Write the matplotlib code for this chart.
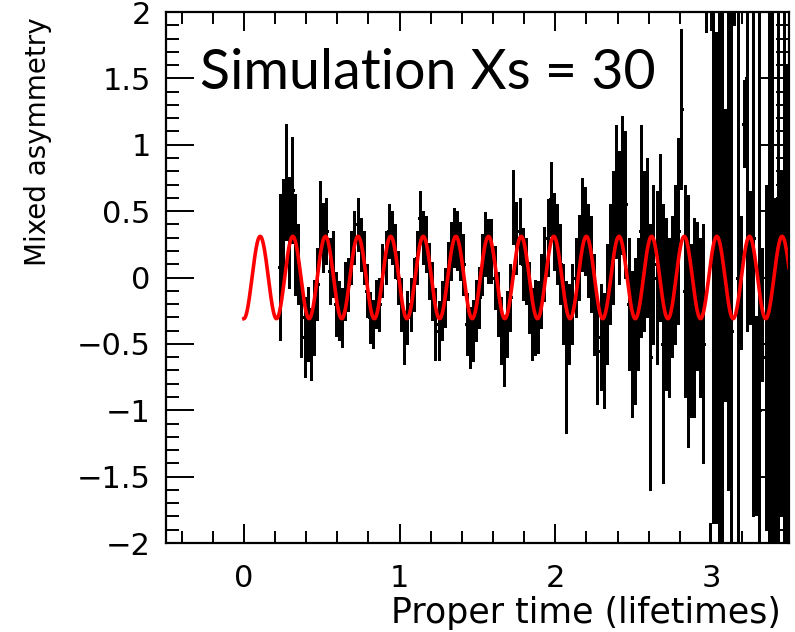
import matplotlib
matplotlib.use("Agg")
import matplotlib.pyplot as plt
import numpy as np
from matplotlib.ticker import MultipleLocator

# Histogram of the mixed asymmetry: bins of 0.02 lifetimes starting at 0.22
bin_low = 0.22
bin_width = 0.02
asymmetry = [
    0.08, 0.34, 0.72, 0.34, 0.66, 0.25, 0.10, -0.30, -0.45, -0.35,
    -0.50, -0.30, -0.05, 0.45, 0.30, 0.35, 0.05, 0.10, -0.20, -0.25,
    -0.30, -0.10, -0.05, 0.15, 0.30, 0.40, 0.25, 0.15, -0.10, -0.30,
    -0.35, -0.20, -0.20, 0.05, 0.15, 0.35, 0.30, 0.20, 0.00, -0.20,
    -0.45, -0.30, -0.20, -0.05, 0.15, 0.45, 0.30, 0.25, 0.05, -0.10,
    -0.35, -0.40, -0.25, -0.15, 0.05, 0.20, 0.30, 0.28, 0.20, 0.10,
    -0.35, -0.45, -0.40, -0.25, -0.15, 0.10, 0.25, 0.20, 0.20, 0.00,
    -0.20, -0.40, -0.55, -0.35, -0.15, 0.53, 0.30, 0.35, 0.10, 0.05,
    -0.15, -0.35, -0.30, -0.30, -0.10, 0.10, 0.30, 0.59, 0.35, 0.25,
    0.10, -0.20, -0.60, -0.35, -0.20, 0.00, 0.15, 0.40, 0.35, 0.20,
    0.10, -0.20, -0.55, -0.45, -0.55, -0.20, 0.10, 0.30, 0.65, 0.45,
    0.70, 0.55, -0.20, -0.50, -0.40, -0.20, 0.35, 0.20, 0.30, -0.60,
    0.10, 0.00, 0.30, -0.50, -0.20, -0.30, -0.07, 0.10, 0.35, 1.27,
    -0.10, -0.33, -0.40, -0.30, -0.14, -0.30, -0.50, 2.50, -2.60, 0.10,
    0.00, 0.20, -0.30, 0.17, 0.50, -0.40, 2.50, 0.00, -0.04, 1.16,
    1.50, 0.15, 0.30, -1.04, -1.00, -0.28, -0.60, 0.20, -0.50, -0.80,
    0.30, -0.50, 0.50, -0.40,
]
errors = [
    0.55, 0.40, 0.44, 0.42, 0.40, 0.38, 0.30, 0.30, 0.30, 0.28,
    0.27, 0.28, 0.27, 0.28, 0.26, 0.25, 0.25, 0.25, 0.24, 0.22,
    0.22, 0.22, 0.20, 0.20, 0.20, 0.20, 0.20, 0.20, 0.20, 0.19,
    0.18, 0.18, 0.20, 0.20, 0.20, 0.20, 0.20, 0.20, 0.20, 0.20,
    0.20, 0.20, 0.20, 0.20, 0.20, 0.20, 0.20, 0.21, 0.21, 0.22,
    0.27, 0.22, 0.22, 0.22, 0.22, 0.22, 0.22, 0.22, 0.22, 0.23,
    0.23, 0.23, 0.23, 0.23, 0.23, 0.23, 0.24, 0.24, 0.24, 0.24,
    0.24, 0.25, 0.27, 0.25, 0.25, 0.28, 0.27, 0.25, 0.27, 0.25,
    0.27, 0.27, 0.28, 0.27, 0.28, 0.28, 0.29, 0.28, 0.29, 0.30,
    0.30, 0.30, 0.57, 0.30, 0.30, 0.30, 0.32, 0.35, 0.33, 0.35,
    0.36, 0.38, 0.40, 0.40, 0.43, 0.45, 0.45, 0.50, 0.50, 0.50,
    0.52, 0.55, 0.50, 0.55, 0.55, 0.50, 0.80, 0.60, 0.60, 1.00,
    0.60, 0.65, 0.63, 1.05, 0.65, 0.60, 0.53, 0.60, 0.70, 0.60,
    0.80, 0.95, 0.65, 0.75, 0.56, 0.60, 0.90, 0.65, 0.75, 1.95,
    1.85, 2.60, 2.50, 1.10, 2.10, 2.80, 0.60, 2.80, 0.50, 0.33,
    1.90, 0.50, 2.10, 0.75, 3.20, 0.50, 1.30, 2.80, 2.60, 1.40,
    2.70, 1.30, 2.60, 2.00,
]

# fitted oscillation
amplitude = 0.31
xs = 30
t_max = 3.5

asym = np.array(asymmetry)
err = np.array(errors)
centers = bin_low + bin_width * (np.arange(len(asym)) + 0.5)

fig = plt.figure(figsize=(7.95, 6.32), dpi=100)
ax = fig.add_axes([0.2088, 0.1408, 0.7836, 0.8402])

eb = ax.errorbar(centers, asym, yerr=err, xerr=bin_width / 2, fmt='none',
                 ecolor='black', elinewidth=1.9, capsize=0)
for lc in eb.lines[2]:
    lc.set_antialiased(False)

t = np.linspace(0, t_max, 1500)
ax.plot(t, -amplitude * np.cos(xs * t), color='red', linewidth=2.6)

ax.set_xlim(-0.5, 3.5)
ax.set_ylim(-2, 2)

ax.xaxis.set_major_locator(MultipleLocator(1))
ax.xaxis.set_minor_locator(MultipleLocator(0.2))
ax.yaxis.set_major_locator(MultipleLocator(0.5))
ax.yaxis.set_minor_locator(MultipleLocator(0.1))
ax.yaxis.set_major_formatter(plt.FuncFormatter(lambda v, p: f'{v:g}'.replace('-', '\u2212')))

ax.tick_params(axis='both', which='both', direction='in', top=True, right=True,
               width=1.4, colors='black')
ax.tick_params(axis='x', which='major', length=13.5, pad=15)
ax.tick_params(axis='x', which='minor', length=8.5)
ax.tick_params(axis='y', which='major', length=20, pad=11)
ax.tick_params(axis='y', which='minor', length=9.5)
for lab in ax.get_xticklabels() + ax.get_yticklabels():
    lab.set_fontfamily('DejaVu Sans')
    lab.set_fontsize(22)
for sp in ax.spines.values():
    sp.set_linewidth(1.6)

ax.set_xlabel('Proper time (lifetimes)', fontfamily='DejaVu Sans', fontsize=25)
ax.xaxis.set_label_coords(0.987, -0.100)
ax.xaxis.label.set_horizontalalignment('right')

ax.set_ylabel('Mixed asymmetry', fontfamily='DejaVu Sans', fontsize=20)
ax.yaxis.set_label_coords(-0.183, 0.989)
ax.yaxis.label.set_horizontalalignment('right')

ax.text(-0.28, 1.54, 'Simulation Xs = 30', fontsize=40, va='center', ha='left',
        fontfamily=['Lato', 'DejaVu Sans'])

fig.savefig('out.png', dpi=100)
